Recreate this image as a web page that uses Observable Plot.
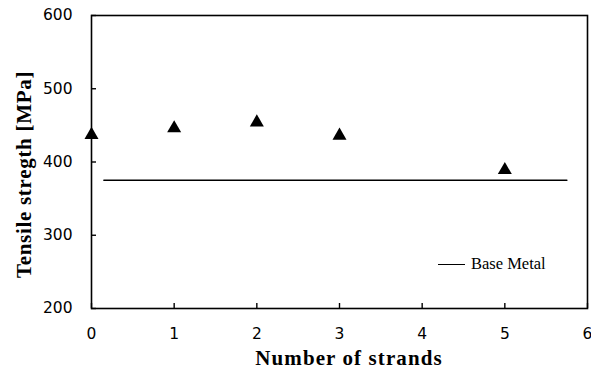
<!DOCTYPE html>
<html>
<head>
<meta charset="utf-8">
<script src="https://cdn.jsdelivr.net/npm/d3@7"></script>
<script src="https://cdn.jsdelivr.net/npm/@observablehq/plot@0.6"></script>
<style>
  body { margin: 0; background: #fff; }
  #chart { position: relative; width: 591px; height: 373px; }
  #chart svg { position: absolute; left: 0; top: 0; }
  .legend { position: absolute; left: 438px; top: 254px; height: 20px; display: flex; align-items: center;
            font-family: "Liberation Serif", "Times New Roman", serif; font-size: 16.5px; color: #000; }
  .legend .swatch { width: 27px; height: 0; border-top: 1.6px solid #000; margin-right: 6px; }
</style>
</head>
<body>
<div id="chart"></div>
<script>
// Tensile strength of joints by number of strands
const strands = [0, 1, 2, 3, 5];
const tensile = [437, 446, 454, 436, 389];

// Base metal reference level
const baseMetalStrength = 375;
const baseMetalSpan = [0.15, 5.75];

const xTicks = [0, 1, 2, 3, 4, 5, 6];
const yTicks = [200, 300, 400, 500, 600];

const xTitle = "Number of strands";
const yTitle = "Tensile stregth [MPa]";

const points = strands.map((s, i) => ({strands: s, strength: tensile[i]}));
const baseLine = baseMetalSpan.map(x => ({strands: x, strength: baseMetalStrength}));

const tickFont = '"DejaVu Sans", "Noto Sans", sans-serif';
const labelFont = '"Liberation Serif", "Times New Roman", serif';

const plot = Plot.plot({
  width: 591,
  height: 373,
  marginLeft: 91,
  marginTop: 15,
  marginRight: 4,
  marginBottom: 65,
  style: {fontFamily: tickFont, fontSize: "15.5px", color: "#000", background: "#fff"},
  x: {domain: [0, 6]},
  y: {domain: [200, 600]},
  marks: [
    Plot.frame({stroke: "#000", strokeWidth: 1.6}),
    Plot.axisX({ticks: xTicks, tickSize: -5, tickPadding: 24, tickFormat: d => String(d), label: null, strokeWidth: 1.4}),
    Plot.axisY({ticks: yTicks, tickSize: -5, tickPadding: 24, tickFormat: d => String(d), label: null, strokeWidth: 1.4}),
    Plot.line(baseLine, {x: "strands", y: "strength", stroke: "#000", strokeWidth: 1.6}),
    Plot.dot(points, {x: "strands", y: "strength", symbol: "triangle", r: 5.2, fill: "#000", stroke: "none"}),
    Plot.text([xTitle], {frameAnchor: "bottom", lineAnchor: "middle", textAnchor: "middle",
      dx: 9.5, dy: 50, fontFamily: labelFont, fontWeight: "bold", fontSize: 21, fill: "#000"}),
    Plot.text([yTitle], {frameAnchor: "left", lineAnchor: "middle", textAnchor: "middle",
      dx: -67, dy: 12.5, rotate: -90, fontFamily: labelFont, fontWeight: "bold", fontSize: 21, fill: "#000"})
  ]
});

// Widen the tracking of the two axis titles
d3.select(plot).selectAll("text").each(function() {
  const t = this.textContent;
  if (t === xTitle) this.style.letterSpacing = "1.1px";
  if (t === yTitle) this.style.letterSpacing = "0.7px";
});

const chart = document.getElementById("chart");
chart.appendChild(plot);

const legend = document.createElement("div");
legend.className = "legend";
legend.innerHTML = '<span class="swatch"></span><span>Base Metal</span>';
chart.appendChild(legend);
</script>
</body>
</html>
